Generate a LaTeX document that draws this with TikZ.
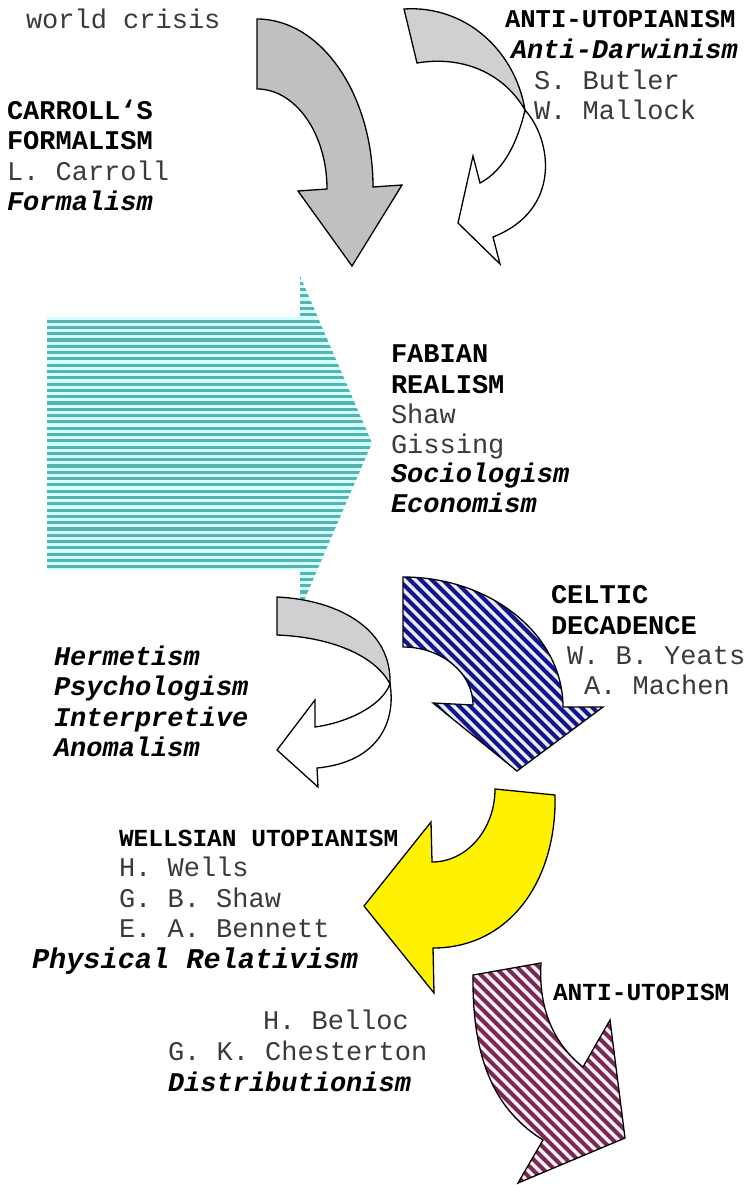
\documentclass[tikz,border=0pt]{standalone}
\usepackage{fontspec}
\setmainfont{Liberation Mono}
\definecolor{grayA}{HTML}{C0C0C0}
\definecolor{grayB}{HTML}{D0D0D0}
\definecolor{tealdark}{HTML}{55B5AE}
\definecolor{teallight}{HTML}{D2FFFF}
\definecolor{bluedark}{HTML}{14148C}
\definecolor{bluelight}{HTML}{E8EEFF}
\definecolor{maroondark}{HTML}{7A2A52}
\definecolor{maroonlight}{HTML}{FFF2FA}
\definecolor{namegray}{HTML}{3A3A3A}

% arrow outlines
\def\pathBig{(257,19) -- (257,89) .. controls (295.6,89) and (327,133.8) .. (327,189) -- (298,191) -- (352,266) -- (402,185) -- (373,187) .. controls (373,94.3) and (321,19) .. (257,19) -- cycle}
\def\pathAUback{(404,9) .. controls (465,5) and (515,50) .. (525,110) .. controls (505,75) and (465,55) .. (417,63) -- cycle}
\def\pathAUfront{(525,110) .. controls (552,140) and (562,210) .. (493,237) -- (500,264) -- (458,223) -- (473,156) -- (480,183) .. controls (505,170) and (518,140) .. (525,110) -- cycle}
\def\pathTeal{(47,317) -- (300,317) -- (300,276) -- (372,443) -- (300,610) -- (300,570) -- (47,570) -- cycle}
\def\pathHback{(277,597) .. controls (340,600) and (392,630) .. (390,684) .. controls (375,655) and (330,637) .. (277,635) -- cycle}
\def\pathHfront{(390,684) .. controls (396,720) and (380,762) .. (317,768) -- (318,787) -- (277,750) -- (315,700) -- (315,727) .. controls (350,722) and (382,705) .. (390,684) -- cycle}
\def\pathCeltic{(403,577) -- (403,647) .. controls (441.6,647) and (473,673) .. (473,705) -- (433,703) -- (517,771) -- (603,707) -- (563,707) .. controls (563,635) and (491,577) .. (403,577) -- cycle}
\def\pathYellow{(495,789) -- (555,795) .. controls (557,880) and (510,948) .. (433,948) -- (434,993) -- (364,906) -- (431,822) -- (432,862) .. controls (466.8,862) and (495,829.3) .. (495,789) -- cycle}
\def\pathAnti{(473,975) -- (541,963) .. controls (538,1010) and (555,1045) .. (583,1067) -- (610,1020) -- (625,1138) -- (518,1183) -- (543,1140) .. controls (495,1110) and (472,1060) .. (473,975) -- cycle}

\begin{document}
\begin{tikzpicture}[x=1pt,y=-1pt,
  outline/.style={draw=black, line width=1.3pt, line join=miter},
  txt/.style={anchor=base west, inner sep=0pt, outer sep=0pt},
  reg/.style={txt, text=namegray, font=\fontsize{27}{30}\selectfont},
  hd/.style={txt, font=\fontsize{27}{30}\selectfont\bfseries},
  hdsmall/.style={txt, font=\fontsize{24.5}{28}\selectfont\bfseries},
  bi/.style={txt, font=\fontsize{27}{30}\selectfont\bfseries\itshape}]
\useasboundingbox (0,0) rectangle (754,1185);
\fill[white] (0,0) rectangle (754,1185);

% horizontal striped arrow
\begin{scope}
  \clip \pathTeal;
  \fill[teallight] (40,270) rectangle (380,615);
  \foreach \i in {0,...,54}
    \draw[tealdark, line width=3.1pt] (40,{277+\i*6.3}) -- (380,{277+\i*6.3});
\end{scope}

% big grey arrow
\fill[grayA] \pathBig;
\draw[outline] \pathBig;

% twisted arrow, top right
\fill[white] \pathAUfront;
\draw[outline] \pathAUfront;
\fill[grayB] \pathAUback;
\draw[outline] \pathAUback;

% twisted arrow, middle left
\fill[white] \pathHfront;
\draw[outline] \pathHfront;
\fill[grayB] \pathHback;
\draw[outline] \pathHback;

% blue striped arrow
\begin{scope}
  \clip \pathCeltic;
  \fill[bluelight] (395,570) rectangle (610,780);
  \foreach \i in {0,...,40}
    \draw[bluedark, line width=4.2pt] ({180+\i*11},570) -- ++(215,215);
\end{scope}
\draw[outline] \pathCeltic;

% yellow arrow
\fill[yellow] \pathYellow;
\draw[outline] \pathYellow;

% maroon striped arrow
\begin{scope}
  \clip \pathAnti;
  \fill[maroonlight] (465,955) rectangle (630,1185);
  \foreach \i in {0,...,38}
    \draw[maroondark, line width=4.2pt] ({230+\i*11},955) -- ++(235,235);
\end{scope}
\draw[outline] \pathAnti;

% labels
\node[reg] (wc) at (26,29) {world crisis};

\node[txt, font=\fontsize{25.6}{30}\selectfont\bfseries] (au1) at (505,28) {ANTI-UTOPIANISM};
\node[bi] (au2) at (511,59) {Anti-Darwinism};
\node[reg] (au3) at (534,90) {S. Butler};
\node[reg] (au4) at (534,120) {W. Mallock};

\node[hd] (cf1) at (7,120) {CARROLL`S};
\node[hd] (cf2) at (7,150) {FORMALISM};
\node[reg] (cf3) at (7,181) {L. Carroll};
\node[bi] (cf4) at (7,211) {Formalism};

\node[hd] (fr1) at (391,362) {FABIAN};
\node[hd] (fr2) at (391,393) {REALISM};
\node[reg] (fr3) at (391,423) {Shaw};
\node[reg] (fr4) at (391,453) {Gissing};
\node[bi] (fr5) at (391,482) {Sociologism};
\node[bi] (fr6) at (391,512) {Economism};

\node[hd] (cd1) at (551,603) {CELTIC};
\node[hd] (cd2) at (551,634) {DECADENCE};
\node[reg] (cd3) at (567,664) {W. B. Yeats};
\node[reg] (cd4) at (584,694) {A. Machen};

\node[bi] (hm1) at (54,665) {Hermetism};
\node[bi] (hm2) at (54,695) {Psychologism};
\node[bi] (hm3) at (54,726) {Interpretive};
\node[bi] (hm4) at (54,756) {Anomalism};

\node[hdsmall] (wu1) at (119,846) {WELLSIAN UTOPIANISM};
\node[reg] (wu2) at (119,876) {H. Wells};
\node[reg] (wu3) at (119,907) {G. B. Shaw};
\node[reg] (wu4) at (119,937) {E. A. Bennett};
\node[txt, font=\fontsize{28.6}{30}\selectfont\bfseries\itshape] (wu5) at (32,968) {Physical Relativism};

\node[hdsmall] (ut1) at (553,1000) {ANTI-UTOPISM};
\node[reg] (ut2) at (263,1029) {H. Belloc};
\node[reg] (ut3) at (168,1060) {G. K. Chesterton};
\node[bi] (ut4) at (168,1091) {Distributionism};
\end{tikzpicture}
\end{document}
